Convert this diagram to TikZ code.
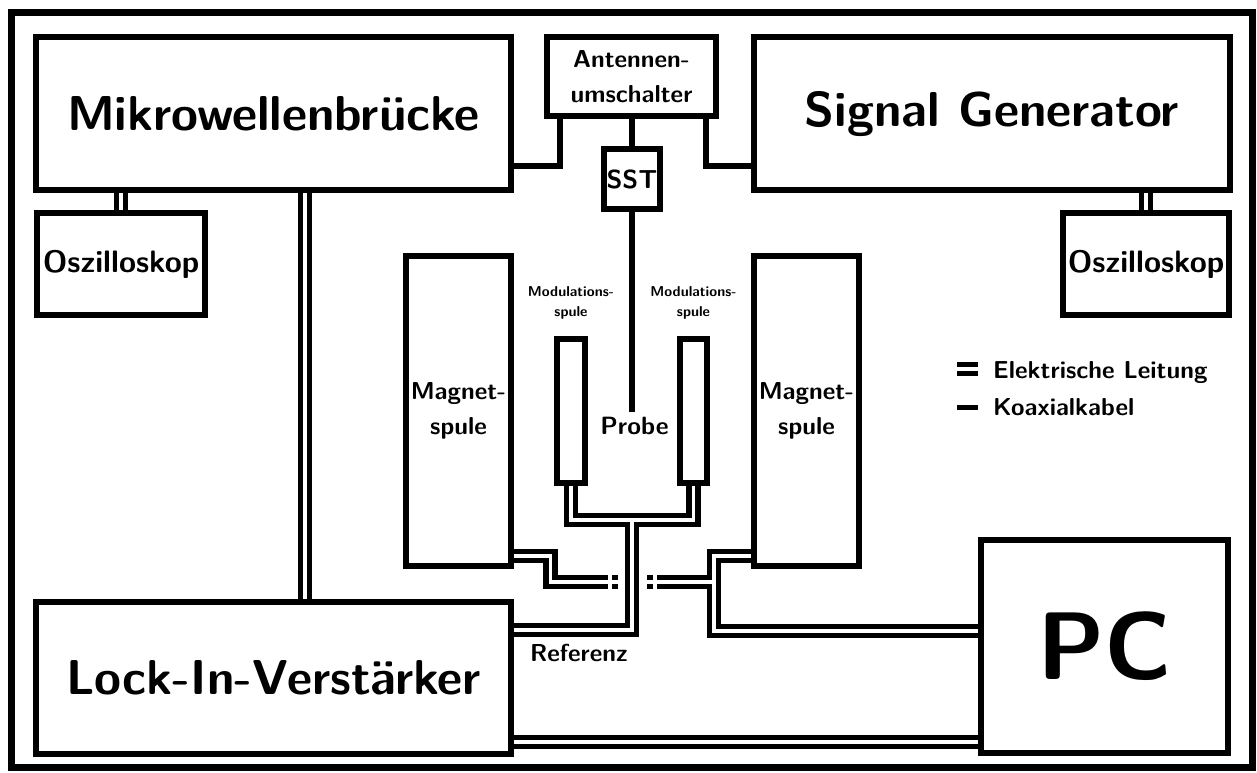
\documentclass[tikz,border=0pt]{standalone}
\usepackage{fontspec}
\usepackage{tikz}
\usetikzlibrary{backgrounds}

\begin{document}
\begin{tikzpicture}[x=1pt,y=-1pt,
  kasten/.style={draw,line width=6pt,inner sep=0pt,align=center},
  txtgross/.style={font=\fontsize{49}{55}\selectfont\sffamily\bfseries},
  txtpc/.style={font=\fontsize{96}{110}\selectfont\sffamily\bfseries},
  txtosz/.style={font=\fontsize{31}{36}\selectfont\sffamily\bfseries},
  txtmittel/.style={font=\fontsize{24.5}{35}\selectfont\sffamily\bfseries,align=center,inner sep=0pt},
  txtsst/.style={font=\fontsize{26}{30}\selectfont\sffamily\bfseries},
  txtklein/.style={font=\fontsize{14.3}{20}\selectfont\sffamily\bfseries,align=center,inner sep=0pt},
  leitung/.style={line width=14.5pt,black},
  leitungkern/.style={line width=3.5pt,white},
  koax/.style={line width=6pt},
  rahmen/.style={line width=7pt}
]
\useasboundingbox (0,0) rectangle (1257,772);
\draw[rahmen] (11.5,12.5) rectangle (1252.5,767.5);

\node[kasten,txtgross,minimum width=475pt,minimum height=153pt] (mikro) at (273.5,113.5) {Mikrowellenbrücke};
\node[kasten,txtmittel,minimum width=169pt,minimum height=79pt] (antennen) at (631.5,76.5) {Antennen-\\umschalter};
\node[kasten,txtsst,minimum width=56pt,minimum height=60pt] (sst) at (632,179) {SST};
\node[kasten,txtgross,minimum width=476pt,minimum height=153pt] (siggen) at (992,113.5) {Signal Generator};
\node[kasten,txtosz,minimum width=168pt,minimum height=102pt] (oszlinks) at (121,264) {Oszilloskop};
\node[kasten,txtosz,minimum width=166pt,minimum height=102pt] (oszrechts) at (1146,264) {Oszilloskop};
\node[kasten,txtmittel,minimum width=105pt,minimum height=310pt] (magnetlinks) at (458.5,411) {Magnet-\\spule};
\node[kasten,txtmittel,minimum width=105pt,minimum height=310pt] (magnetrechts) at (806.5,411) {Magnet-\\spule};
\node[kasten,minimum width=28pt,minimum height=144pt] (modlinks) at (571,411) {};
\node[kasten,minimum width=27pt,minimum height=144pt] (modrechts) at (693.5,411) {};
\node[kasten,txtgross,minimum width=475pt,minimum height=152pt] (lockin) at (273.5,678) {Lock-In-Verstärker};
\node[kasten,txtpc,minimum width=247pt,minimum height=213pt] (pc) at (1104.5,646.5) {PC};

\node[txtklein] (modlinkstxt) at (571,303) {Modulations-\\spule};
\node[txtklein] (modrechtstxt) at (693.5,303) {Modulations-\\spule};
\node[txtmittel,font=\fontsize{25}{30}\selectfont\sffamily\bfseries,anchor=base] (probe) at (634.5,434) {Probe};
\node[txtmittel,anchor=base west] (referenz) at (530,661) {Referenz};
\node[txtmittel,anchor=base west] (legleitung) at (993,378) {Elektrische Leitung};
\node[txtmittel,anchor=base west] (legkoax) at (993,415) {Koaxialkabel};

\coordinate (probeende) at (632,412);
\coordinate (verteiler) at (632,520);
\coordinate (knicklinks) at (550.5,582);
\coordinate (sprunglinks) at (608,582);
\coordinate (punktlinksA) at (612,582);
\coordinate (punktlinksB) at (618,582);
\coordinate (punktrechtsA) at (647,582);
\coordinate (punktrechtsB) at (653,582);
\coordinate (sprungrechts) at (657,582);
\coordinate (knickrechts) at (714,582);
\coordinate (legA) at (957,369);
\coordinate (legB) at (978,369);
\coordinate (legC) at (957,407.5);
\coordinate (legD) at (978,407.5);

\begin{scope}[on background layer]
\foreach \stil in {leitung,leitungkern}{
  \draw[\stil] (oszlinks.north |- mikro.south) -- (oszlinks.north);
  \draw[\stil] (oszrechts.north |- siggen.south) -- (oszrechts.north);
  \draw[\stil] ([xshift=31.5pt]mikro.south) -- ([xshift=31.5pt]mikro.south |- lockin.north);
  \draw[\stil] (lockin.east |- 0,742) -- (pc.west |- 0,742);
  \draw[\stil] (modlinks.south) |- (verteiler) -| (modrechts.south);
  \draw[\stil] (verteiler) |- (lockin.east |- 0,630);
  \draw[\stil] (magnetlinks.east |- 0,556) -| (knicklinks) -- (sprunglinks);
  \draw[\stil] (punktlinksA) -- (punktlinksB);
  \draw[\stil] (punktrechtsA) -- (punktrechtsB);
  \draw[\stil] (magnetrechts.west |- 0,556) -| (714,631) -- (pc.west |- 0,631);
  \draw[\stil] (sprungrechts) -- (knickrechts);
  \draw[\stil] (legA) -- (legB);
}
\end{scope}

\draw[koax] ([xshift=-71.5pt]antennen.south) |- (mikro.east |- 0,166);
\draw[koax] ([xshift=74.5pt]antennen.south) |- (siggen.west |- 0,166);
\draw[koax] (sst.north |- antennen.south) -- (sst.north);
\draw[koax] (sst.south) -- (probeende);
\draw[koax,line width=5pt] (legC) -- (legD);
\end{tikzpicture}
\end{document}
